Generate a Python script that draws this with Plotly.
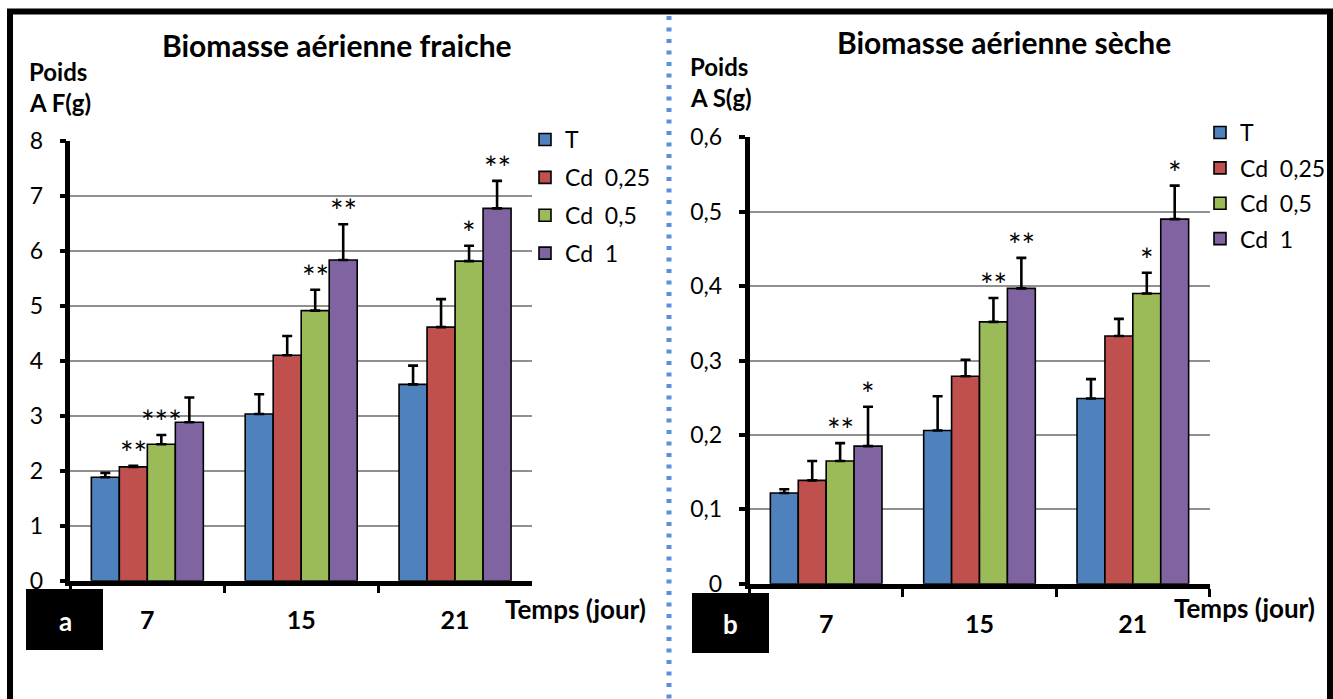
import plotly.graph_objects as go

W, H = 1333, 699
FONT = "Lato"

# ---------------- data ----------------
days = ["7", "15", "21"]
series_names = ["T", "Cd\u00a0\u00a00,25", "Cd\u00a0\u00a00,5", "Cd\u00a0\u00a01"]
colors = ["#4F81BD", "#C0504D", "#9BBB59", "#8064A2"]

# (a) fresh aerial biomass (g)
fresh_T = [1.88, 3.03, 3.57]
fresh_cd025 = [2.07, 4.10, 4.61]
fresh_cd05 = [2.48, 4.91, 5.81]
fresh_cd1 = [2.88, 5.83, 6.77]
fresh_err_T = [0.08, 0.36, 0.34]
fresh_err_cd025 = [0.02, 0.35, 0.51]
fresh_err_cd05 = [0.17, 0.38, 0.28]
fresh_err_cd1 = [0.45, 0.65, 0.50]
fresh_sig_T = ["", "", ""]
fresh_sig_cd025 = ["**", "", ""]
fresh_sig_cd05 = ["***", "**", "*"]
fresh_sig_cd1 = ["", "**", "**"]

# (b) dry aerial biomass (g)
dry_T = [0.122, 0.206, 0.249]
dry_cd025 = [0.139, 0.279, 0.333]
dry_cd05 = [0.165, 0.352, 0.390]
dry_cd1 = [0.185, 0.397, 0.490]
dry_err_T = [0.005, 0.046, 0.026]
dry_err_cd025 = [0.026, 0.022, 0.023]
dry_err_cd05 = [0.024, 0.032, 0.028]
dry_err_cd1 = [0.053, 0.041, 0.045]
dry_sig_T = ["", "", ""]
dry_sig_cd025 = ["", "", ""]
dry_sig_cd05 = ["**", "**", "*"]
dry_sig_cd1 = ["*", "**", "*"]

fresh_vals = [fresh_T, fresh_cd025, fresh_cd05, fresh_cd1]
fresh_errs = [fresh_err_T, fresh_err_cd025, fresh_err_cd05, fresh_err_cd1]
fresh_sigs = [fresh_sig_T, fresh_sig_cd025, fresh_sig_cd05, fresh_sig_cd1]
dry_vals = [dry_T, dry_cd025, dry_cd05, dry_cd1]
dry_errs = [dry_err_T, dry_err_cd025, dry_err_cd05, dry_err_cd1]
dry_sigs = [dry_sig_T, dry_sig_cd025, dry_sig_cd05, dry_sig_cd1]

BARGAP = 0.272


def fx(p):
    return p / W


def fy(p):
    return 1 - p / H


fig = go.Figure()
annotations = []

panels = [
    ("x", "y", "legend", fresh_vals, fresh_errs, fresh_sigs, "L"),
    ("x2", "y2", "legend2", dry_vals, dry_errs, dry_sigs, "R"),
]
nser = len(series_names)
bw = (1 - BARGAP) / nser
for xa, ya, leg, vals, errs, sigs, tag in panels:
    for j in range(nser):
        fig.add_trace(go.Bar(
            x=days, y=vals[j], name=series_names[j],
            xaxis=xa, yaxis=ya, legend=leg, legendgroup=f"{tag}{j}",
            marker=dict(color=colors[j], line=dict(color="black", width=1.6)),
            error_y=dict(type="data", symmetric=False, array=errs[j],
                         arrayminus=[0] * len(days), color="black",
                         thickness=2.6, width=5),
        ))
        for i, s in enumerate(sigs[j]):
            if s:
                annotations.append(dict(
                    x=i + (j - (nser - 1) / 2) * bw, y=vals[j][i] + errs[j][i],
                    xref=xa, yref=ya, text=s, showarrow=False,
                    yanchor="bottom", yshift=-8,
                    font=dict(family=FONT, size=32, color="black")))

axis_common = dict(showline=True, linecolor="black", linewidth=4.5,
                   ticks="outside", tickcolor="black", mirror=False, automargin=False)

xaxis_common = dict(axis_common, type="category", range=[-0.5, 2.5],
                    tickson="boundaries", ticklen=8, tickwidth=3,
                    showgrid=False, ticklabelstandoff=14,
                    tickfont=dict(family=FONT, size=25, color="black", weight="bold"))

yaxis_common = dict(axis_common, ticklen=6, tickwidth=4, showgrid=True,
                    gridcolor="#909090", gridwidth=1.6, zeroline=False,
                    ticklabelstandoff=12,
                    tickfont=dict(family=FONT, size=23, color="black"))

legend_common = dict(font=dict(family=FONT, size=23, color="black"),
                     xanchor="left", yanchor="top", traceorder="grouped",
                     bgcolor="rgba(0,0,0,0)", borderwidth=0, itemwidth=30)


def txt(x, y, t, size=24, bold=True, color="black", xanchor="center"):
    annotations.append(dict(x=fx(x), y=fy(y), xref="paper", yref="paper",
                            text=t, showarrow=False, xanchor=xanchor, yanchor="middle",
                            font=dict(family=FONT, size=size, color=color,
                                      weight="bold" if bold else "normal")))


txt(337, 45, "Biomasse aérienne fraiche", size=30)
txt(1004, 42, "Biomasse aérienne sèche", size=30)
txt(27, 72, "Poids", xanchor="left")
txt(27, 102, "A F(g)", xanchor="left")
txt(688, 67, "Poids", xanchor="left")
txt(688, 97, "A S(g)", xanchor="left")
txt(575, 609, "Temps (jour)", size=26)
txt(1244, 608, "Temps (jour)", size=26)
txt(65, 621, "a", color="white", size=26)
txt(730, 624, "b", color="white", size=26)

shapes = [
    # outer frame
    dict(type="path", xref="paper", yref="paper",
         path=f"M {fx(10)} {fy(712)} L {fx(10)} {fy(11.5)} L {fx(1330)} {fy(11.5)} L {fx(1330)} {fy(712)}",
         line=dict(color="black", width=6)),
    # dotted separator between panels
    dict(type="line", xref="paper", yref="paper", x0=fx(669), x1=fx(669), y0=fy(16), y1=fy(705),
         line=dict(color="#5B8FD9", width=5, dash="4px,7.5px")),
    # panel letter boxes
    dict(type="rect", xref="paper", yref="paper", x0=fx(26), x1=fx(103), y0=fy(589), y1=fy(650),
         fillcolor="black", line=dict(color="black", width=0)),
    dict(type="rect", xref="paper", yref="paper", x0=fx(692), x1=fx(769), y0=fy(593), y1=fy(653),
         fillcolor="black", line=dict(color="black", width=0)),
]

fig.update_layout(
    width=W, height=H, autosize=False,
    margin=dict(l=0, r=0, t=0, b=0, pad=0, autoexpand=False),
    paper_bgcolor="white", plot_bgcolor="white",
    separators=", ",
    barmode="group", bargap=BARGAP, bargroupgap=0,
    font=dict(family=FONT, color="black"),
    xaxis=dict(xaxis_common, domain=[fx(70.4), fx(532)], anchor="y"),
    yaxis=dict(yaxis_common, domain=[fy(580.7), fy(140.7)], anchor="x",
               range=[0, 8], dtick=1),
    xaxis2=dict(xaxis_common, domain=[fx(749.5), fx(1209.5)], anchor="y2"),
    yaxis2=dict(yaxis_common, domain=[fy(583.8), fy(137.3)], anchor="x2",
                range=[0, 0.6], dtick=0.1),
    legend=dict(legend_common, x=fx(525), y=fy(118), tracegroupgap=5),
    legend2=dict(legend_common, x=fx(1200), y=fy(111), tracegroupgap=2.5),
    annotations=annotations,
    shapes=shapes,
    showlegend=True,
)

fig.write_html("out.html")
